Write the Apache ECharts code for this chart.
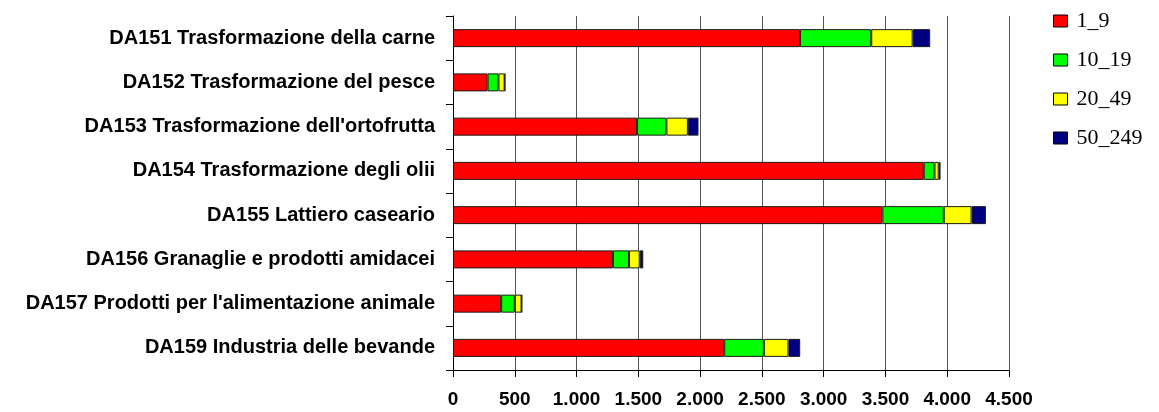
<!DOCTYPE html>
<html>
<head>
<meta charset="utf-8">
<script src="https://cdn.jsdelivr.net/npm/echarts@6/dist/echarts.min.js"></script>
<style>
  html, body { margin: 0; padding: 0; background: #fff; }
  #chart { width: 1159px; height: 412px; }
</style>
</head>
<body>
<div id="chart"></div>
<script>
// Sectors of the food industry (top to bottom)
const categories = [
  'DA151 Trasformazione della carne',
  'DA152 Trasformazione del pesce',
  "DA153 Trasformazione dell'ortofrutta",
  'DA154 Trasformazione degli olii',
  'DA155 Lattiero caseario',
  'DA156 Granaglie e prodotti amidacei',
  "DA157 Prodotti per l'alimentazione animale",
  'DA159 Industria delle bevande'
];

// Firms by size class (number of employees)
const classNames = ['1_9', '10_19', '20_49', '50_249'];
const size1to9    = [2808, 280, 1490, 3810, 3475, 1294, 390, 2195];
const size10to19  = [ 577,  88,  237,   87,  497,  130, 110,  321];
const size20to49  = [ 335,  50,  174,   34,  225,   87,  55,  199];
const size50to249 = [ 142,   4,   86,   15,  116,   29,   3,   95];
const seriesValues = [size1to9, size10to19, size20to49, size50to249];
const classColors = ['#FF0000', '#00FF00', '#FFFF00', '#000080'];

// x-axis scale
const xMin = 0, xMax = 4500, xStep = 500;

const fmtThousands = v => String(v).replace(/\B(?=(\d{3})+(?!\d))/g, '.');

const chart = echarts.init(document.getElementById('chart'), null, { renderer: 'canvas' });

chart.setOption({
  animation: false,
  backgroundColor: '#ffffff',
  grid: { left: 453, right: 150, top: 16, bottom: 42, containLabel: false },
  legend: {
    orient: 'vertical',
    left: 1053,
    top: 10,
    padding: 0,
    icon: 'rect',
    itemWidth: 14,
    itemHeight: 12,
    itemGap: 17,
    data: classNames,
    textStyle: { fontFamily: 'Liberation Serif', fontSize: 22, color: '#000', padding: [0, 0, 0, 4] },
    itemStyle: { borderColor: '#000', borderWidth: 1 }
  },
  xAxis: {
    type: 'value',
    min: xMin, max: xMax, interval: xStep,
    axisLine: { show: true, lineStyle: { color: '#000', width: 1 } },
    axisTick: { show: true, length: 7, lineStyle: { color: '#000' } },
    axisLabel: {
      formatter: fmtThousands,
      margin: 20,
      fontFamily: 'Liberation Sans', fontWeight: 'bold', fontSize: 19, color: '#000'
    },
    splitLine: { show: true, lineStyle: { color: '#555', width: 1 } }
  },
  yAxis: {
    type: 'category',
    inverse: true,
    data: categories,
    axisLine: { show: true, lineStyle: { color: '#000', width: 1 } },
    axisTick: { show: true, length: 7, inside: false, lineStyle: { color: '#000' } },
    axisLabel: {
      margin: 18,
      fontFamily: 'Liberation Sans', fontWeight: 'bold', fontSize: 20, color: '#000'
    },
    splitLine: { show: false }
  },
  series: seriesValues.map((vals, i) => ({
    name: classNames[i],
    type: 'bar',
    stack: 'total',
    barWidth: 18,
    data: vals,
    itemStyle: { color: classColors[i], borderColor: '#1a1a1a', borderWidth: 1 }
  }))
});
</script>
</body>
</html>
